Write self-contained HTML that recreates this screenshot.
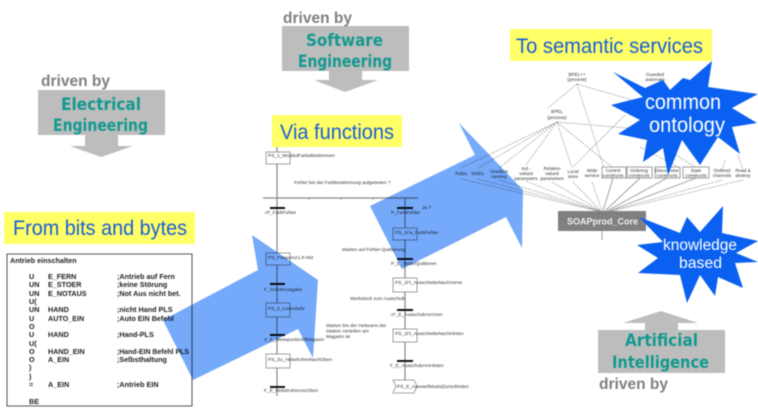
<!DOCTYPE html>
<html><head><meta charset="utf-8"><style>
html,body{margin:0;padding:0;background:#fff;width:758px;height:408px;overflow:hidden}
svg{display:block;filter:blur(.5px)}
text{font-family:"Liberation Sans",sans-serif}
.dr{font-size:16px;font-weight:bold;fill:#808080}
.te{font-family:"DejaVu Sans",sans-serif;font-size:17px;font-weight:bold;fill:#14998f}
.ye{font-size:21px;fill:#1a5ed8}
.ls{font-size:7.2px;font-weight:bold;fill:#222}
.sf{font-size:4.8px;fill:#333}
.on{font-size:4.6px;fill:#333;text-anchor:middle}
.st{fill:#0a60f0}
.wt{fill:#fff}
.bl{fill:#75a9f9;mix-blend-mode:multiply}
.d{stroke:#888;stroke-width:.6;stroke-dasharray:2 1;fill:none}
.s{stroke:#999;stroke-width:.9;fill:none}
.v{stroke:#888;stroke-width:1.2;fill:none}
.b{fill:#fff;stroke:#888;stroke-width:.8}
.t{stroke:#111;stroke-width:2}
</style></head><body>
<svg width="758" height="408" viewBox="0 0 758 408" xmlns="http://www.w3.org/2000/svg">
<rect width="758" height="408" fill="#fff"/>

<!-- gray arrows -->
<path fill="#bdbdbd" d="M38 90H165V135H118V146H133L101 157L70 146H85V135H38Z"/>
<path fill="#bdbdbd" d="M282 26H409V71H362V80H378L345 92L314 80H329V71H282Z"/>
<path fill="#bdbdbd" d="M598 330H725V373H598ZM645 330V323H623L661 311L698 323H678V330Z"/>

<text class="dr" x="41" y="86" textLength="69" lengthAdjust="spacingAndGlyphs">driven by</text>
<text class="dr" x="283" y="23" textLength="69" lengthAdjust="spacingAndGlyphs">driven by</text>
<text class="dr" x="599" y="389" textLength="69" lengthAdjust="spacingAndGlyphs">driven by</text>
<text class="te" x="61" y="110" textLength="80" lengthAdjust="spacingAndGlyphs">Electrical</text>
<text class="te" x="53" y="131" textLength="95" lengthAdjust="spacingAndGlyphs">Engineering</text>
<text class="te" x="306" y="46" textLength="77" lengthAdjust="spacingAndGlyphs">Software</text>
<text class="te" x="298" y="67" textLength="94" lengthAdjust="spacingAndGlyphs">Engineering</text>
<text class="te" x="625" y="346" textLength="73" lengthAdjust="spacingAndGlyphs">Artificial</text>
<text class="te" x="612" y="368" textLength="97" lengthAdjust="spacingAndGlyphs">Intelligence</text>

<!-- yellow labels -->
<rect x="4" y="212" width="191" height="32" fill="#ffff66"/>
<text class="ye" x="13" y="235" textLength="174" lengthAdjust="spacingAndGlyphs">From bits and bytes</text>
<rect x="272" y="115" width="130" height="32" fill="#ffff66"/>
<text class="ye" x="280" y="139" textLength="114" lengthAdjust="spacingAndGlyphs">Via functions</text>
<rect x="510" y="29" width="202" height="32" fill="#ffff66"/>
<text class="ye" x="516" y="53" textLength="187" lengthAdjust="spacingAndGlyphs">To semantic services</text>

<!-- listing -->
<rect x="7" y="254" width="185" height="152" fill="#fff" stroke="#555" stroke-width="1"/>
<text class="ls" x="10" y="263">Antrieb einschalten</text>
<g>
<text class="ls" x="29" y="279">U</text><text class="ls" x="48" y="279">E_FERN</text><text class="ls" x="117" y="279">;Antrieb auf Fern</text>
<text class="ls" x="29" y="287">UN</text><text class="ls" x="48" y="287">E_STOER</text><text class="ls" x="117" y="287">;keine Störung</text>
<text class="ls" x="29" y="296">UN</text><text class="ls" x="48" y="296">E_NOTAUS</text><text class="ls" x="117" y="296">;Not Aus nicht bet.</text>
<text class="ls" x="29" y="304">U(</text>
<text class="ls" x="29" y="312">UN</text><text class="ls" x="48" y="312">HAND</text><text class="ls" x="117" y="312">;nicht Hand PLS</text>
<text class="ls" x="29" y="321">U</text><text class="ls" x="48" y="321">AUTO_EIN</text><text class="ls" x="117" y="321">;Auto EIN Befehl</text>
<text class="ls" x="29" y="329">O</text>
<text class="ls" x="29" y="337">U</text><text class="ls" x="48" y="337">HAND</text><text class="ls" x="117" y="337">;Hand-PLS</text>
<text class="ls" x="29" y="346">U(</text>
<text class="ls" x="29" y="354">O</text><text class="ls" x="48" y="354">HAND_EIN</text><text class="ls" x="117" y="354" textLength="72" lengthAdjust="spacingAndGlyphs">;Hand-EIN Befehl PLS</text>
<text class="ls" x="29" y="362">O</text><text class="ls" x="48" y="362">A_EIN</text><text class="ls" x="117" y="362">;Selbsthaltung</text>
<text class="ls" x="29" y="370">)</text>
<text class="ls" x="29" y="379">)</text>
<text class="ls" x="29" y="387">=</text><text class="ls" x="48" y="387">A_EIN</text><text class="ls" x="117" y="387">;Antrieb EIN</text>
<text class="ls" x="29" y="404">BE</text>
</g>

<!-- SFC -->
<path class="v" d="M277 147V396M263 198H418M405 198V382"/>
<path class="s" d="M309 198v2M341 198v2M373 198v2"/>
<g>
<rect class="b" x="266" y="152" width="24" height="12"/>
<rect class="b" x="266" y="253" width="24" height="12"/>
<rect class="b" x="266" y="303" width="24" height="14"/>
<rect class="b" x="266" y="354" width="24" height="14"/>
<rect class="b" x="393" y="228" width="24" height="12"/>
<rect class="b" x="393" y="278" width="24" height="14"/>
<rect class="b" x="393" y="329" width="24" height="13"/>
<path class="b" d="M393 380H414L417 386L414 393H393L396 386Z"/>
</g>
<path class="t" d="M270 208H285M270 284H285M270 335H285M270 387H285M397 208H413M397 259H413M397 310H413M397 361H413"/>
<g>
<text class="sf" x="268" y="157">PS_1_ModdulFarbeBestimmen</text>
<text class="sf" x="294" y="184">Fehler bei der Farbbestimmung aufgetreten ?</text>
<text class="sf" x="264" y="214">=P_FarbFehler</text>
<text class="sf" x="268" y="259">PS_Frequenz1.rl=M2</text>
<text class="sf" x="264" y="291">F_SchrittAusgabe</text>
<text class="sf" x="268" y="310">PS_2_Lesenbefe</text>
<text class="sf" x="264" y="341">V_E_MesspunktAbfMagazin</text>
<text class="sf" x="268" y="361">PS_Zu_HebelrohreNachOben</text>
<text class="sf" x="264" y="392">F_E_HebelrohreAmOben</text>
<text class="sf" x="326" y="327">Warten bis der Hebearm der</text>
<text class="sf" x="326" y="332.500">Station Verteilen am</text>
<text class="sf" x="326" y="338">Magazin ist</text>
<text class="sf" x="342" y="251">Warten auf Fehler-Quittierung</text>
<text class="sf" x="350" y="300">Werkstück zum Ausschub</text>
<text class="sf" x="422" y="209">Ja ?</text>
<text class="sf" x="391" y="214">P_FarbFehler</text>
<text class="sf" x="395" y="234">PS_1Fa_FarbFehler</text>
<text class="sf" x="391" y="265">P_E_TasterQuittieren</text>
<text class="sf" x="395" y="284">PS_1Ft_AusschiebeNachVorne</text>
<text class="sf" x="390" y="316">=F_E_AusschubAmVorn</text>
<text class="sf" x="395" y="335">PS_1Ft_AusschiebeNachHinten</text>
<text class="sf" x="390" y="367">F_E_AusschubAmHinten</text>
<text class="sf" x="397" y="388">PS_E_AuswerfModulZurückholen</text>
</g>

<!-- ontology -->
<g>
<path class="d" d="M577 84L548 108M577 84L604 168M577 84L660 108M557 122L461 168M557 122L478 168M557 122L499 168M557 122L526 165M557 122L572 168M557 122L612 167M557 122L650 130M625 115L573 167M640 147L680 168M660 145L695 167M725 160L722 170M738 155L743 170"/>
<path class="d" d="M461 179L598 211M478 179L599 211M499 180L600 211M526 181L600 211M552 182L601 211M573 182L601 211M592 182L602 211M722 180L610 211M743 180L612 211"/>
<path class="s" d="M613 178L603 211M640 178L605 211M667 178L607 211M696 178L609 211M602 231V240"/>
</g>
<g>
<text class="on" x="577" y="76">BPEL++</text><text class="on" x="577" y="81">(process)</text>
<text class="on" x="557" y="113">BPEL</text><text class="on" x="557" y="119">(process)</text>
<text class="on" x="655" y="76">Guarded</text><text class="on" x="655" y="81">automata</text>
<text class="on" x="461" y="175">Roles</text>
<text class="on" x="478" y="175">WSDL</text>
<text class="on" x="499" y="173">Gradient</text><text class="on" x="499" y="178">naming</text>
<text class="on" x="526" y="170">Ind.-</text><text class="on" x="526" y="175">valued</text><text class="on" x="526" y="180">parameters</text>
<text class="on" x="552" y="170">Relation</text><text class="on" x="552" y="175">valued</text><text class="on" x="552" y="180">parameters</text>
<text class="on" x="573" y="173">Local</text><text class="on" x="573" y="178">store</text>
<text class="on" x="592" y="172">Wide</text><text class="on" x="592" y="177">service</text>
<text class="on" x="722" y="172">Ordered</text><text class="on" x="722" y="177">channels</text>
<text class="on" x="743" y="172">Read &amp;</text><text class="on" x="743" y="177">destroy</text>
</g>
<g>
<rect class="b" x="602" y="167" width="24" height="11"/>
<rect class="b" x="627" y="167" width="25" height="11"/>
<rect class="b" x="655" y="167" width="25" height="11"/>
<rect class="b" x="683" y="167" width="26" height="11"/>
</g>
<g>
<text class="on" x="613" y="172">Control</text><text class="on" x="613" y="177">constructs</text>
<text class="on" x="639" y="172">Ordering</text><text class="on" x="639" y="177">constructs</text>
<text class="on" x="667" y="172">Discoursive</text><text class="on" x="667" y="177">constructs</text>
<text class="on" x="696" y="172">State</text><text class="on" x="696" y="177">constructs</text>
</g>
<rect x="558" y="211" width="88" height="20" fill="#808080"/>
<text x="567" y="224.500" font-size="9.500" font-weight="bold" fill="#f0f0f0" textLength="71" lengthAdjust="spacingAndGlyphs">SOAPprod_Core</text>

<!-- blue block arrows -->
<path class="bl" d="M163 320L258 270L252 235L318 280L313 358L298 329L193 380Z"/>
<path class="bl" d="M370 206L475 155L459 123L523 190L522 248L506 217L402 269Z"/>

<!-- stars -->
<path class="st" d="M613 72L645 88L663 80L670 90L683 78L690 80L712 61L708 87L758 94L732 108L757 123L732 127L740 154L718 137L700 165L682 140L668 175L663 148L643 162L647 140L618 134L640 120L611 105L643 97Z"/>
<path class="st" d="M639 217L680 233L687 217L700 232L723 206L722 233L758 241L736 253L758 262L735 263L743 288L718 277L715 296L700 275L687 303L680 275L638 273L658 258L637 245L663 242Z"/>
<text class="wt" x="645" y="109" font-size="21" textLength="76" lengthAdjust="spacingAndGlyphs">common</text>
<text class="wt" x="649" y="132" font-size="21" textLength="76" lengthAdjust="spacingAndGlyphs">ontology</text>
<text class="wt" x="663" y="250" font-size="15.500" textLength="74" lengthAdjust="spacingAndGlyphs">knowledge</text>
<text class="wt" x="679" y="268" font-size="15.500" textLength="43" lengthAdjust="spacingAndGlyphs">based</text>
</svg>
</body></html>
